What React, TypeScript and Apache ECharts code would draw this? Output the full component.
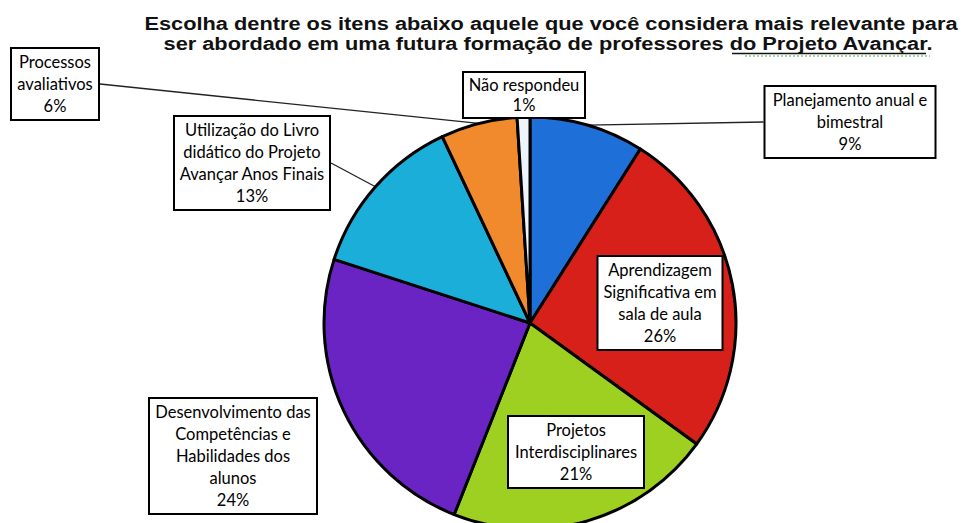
import React, { useEffect, useRef } from "react";
import * as echarts from "echarts";

const titleLines = [
  "Escolha dentre os itens abaixo aquele que você considera mais relevante para",
  "ser abordado em uma futura formação de professores do Projeto Avançar.",
];

const categories = [
  "Planejamento anual e\nbimestral",
  "Aprendizagem\nSignificativa em\nsala de aula",
  "Projetos\nInterdisciplinares",
  "Desenvolvimento das\nCompetências e\nHabilidades dos\nalunos",
  "Utilização do Livro\ndidático do Projeto\nAvançar Anos Finais",
  "Processos\navaliativos",
  "Não respondeu",
];
const values = [9, 26, 21, 24, 13, 6, 1];
const colors = ["#1F6FD8", "#D8201A", "#9ED021", "#6B24C4", "#1AAED8", "#F08A2C", "#EEF4FC"];

// label box layout (center x, center y, box width) and leader side
const boxCenters: number[][] = [
  [850, 122],
  [660, 303],
  [576, 452],
  [233, 456],
  [252, 163],
  [55, 84],
  [524, 95],
];
const boxWidths = [173, 127, 138, 170, 158, 90, 124];
const leaderSide = ["left", "none", "none", "none", "right", "right", "none"];

export default function App() {
  const ref = useRef<HTMLDivElement>(null);
  useEffect(() => {
    if (!ref.current) return;
    const chart = echarts.init(ref.current, null, { renderer: "svg" });
    const padH = 4;
    const data = categories.map((name, i) => ({
      name,
      value: values[i],
      itemStyle: { color: colors[i] },
      label: {
        position: leaderSide[i] === "none" ? "inside" : "outside",
        width: boxWidths[i] - 2 * padH - 4,
        lineHeight: i === 6 ? 20 : 22,
      },
      labelLine: { show: leaderSide[i] !== "none" },
    }));
    const titleStyle = {
      fontFamily: "Liberation Sans",
      fontWeight: "bold",
      fontSize: 18,
      fill: "#111",
      textAlign: "center",
      textVerticalAlign: "middle",
    };
    chart.setOption({
      animation: false,
      graphic: [
        {
          type: "text",
          x: 551,
          y: 23.5,
          scaleX: 1.21,
          style: { ...titleStyle, text: titleLines[0] },
        },
        {
          type: "text",
          x: 548,
          y: 44,
          scaleX: 1.21,
          style: { ...titleStyle, text: titleLines[1] },
        },
        {
          type: "line",
          shape: { x1: 732, y1: 53.5, x2: 926, y2: 53.5 },
          style: { stroke: "#111", lineWidth: 1.5 },
        },
        {
          type: "line",
          shape: { x1: 745, y1: 56, x2: 930, y2: 56 },
          style: { stroke: "#4caf50", lineWidth: 1, lineDash: [2, 2] },
        },
      ],
      series: [
        {
          type: "pie",
          center: [530, 323],
          radius: 206,
          startAngle: 90,
          clockwise: true,
          percentPrecision: 0,
          avoidLabelOverlap: false,
          itemStyle: { borderColor: "#000", borderWidth: 3 },
          label: {
            show: true,
            formatter: "{b}\n{d}%",
            fontFamily: "Lato",
            fontSize: 16.5,
            color: "#000",
            align: "center",
            backgroundColor: "#fff",
            borderColor: "#000",
            borderWidth: 2,
            padding: [2, padH],
            overflow: "none",
          },
          labelLine: {
            show: true,
            length: 10,
            length2: 10,
            smooth: false,
            lineStyle: { color: "#222", width: 1.3 },
          },
          emphasis: { disabled: true },
          labelLayout: (params: any) => {
            const i = params.dataIndex;
            const [cx, cy] = boxCenters[i];
            const res: any = { x: cx, y: cy, align: "center", verticalAlign: "middle" };
            const side = leaderSide[i];
            if (side !== "none" && params.labelLinePoints) {
              const p0 = params.labelLinePoints[0];
              const ex = side === "left" ? cx - boxWidths[i] / 2 : cx + boxWidths[i] / 2;
              res.labelLinePoints = [p0, [ex, cy], [ex, cy]];
            }
            return res;
          },
          data,
        },
      ],
    });
    return () => chart.dispose();
  }, []);
  return (
    <div
      ref={ref}
      style={{ position: "fixed", left: 0, top: 0, width: 961, height: 523, background: "#fff" }}
    />
  );
}
